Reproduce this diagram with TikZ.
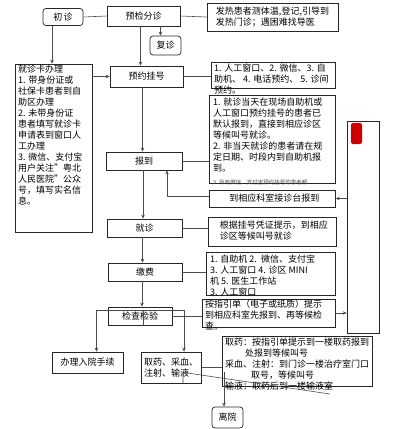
\documentclass[tikz,border=0pt]{standalone}
\usepackage{fontspec}
\setmainfont{Noto Sans CJK SC}
\usetikzlibrary{arrows.meta, calc}

\begin{document}
\begin{tikzpicture}[x = 1pt, y = -1pt,
        every node/.style = {font = \fontsize{9}{11}\selectfont, inner sep = 0pt},
        stepbox/.style = {draw = black!85, line width = 0.7pt, fill = white},
        roundbox/.style = {stepbox, rounded corners = 3pt},
        txt/.style = {anchor = north west, align = left},
        arr/.style = {-{Stealth[length = 4pt, width = 3.5pt]}},
        con/.style = {draw = black!70, line width = 0.6pt}]
        \useasboundingbox (0,0) rectangle (414,429);

        % top row
        \node[roundbox, minimum width = 40pt, minimum height = 17pt] (chuzhen) at (63,17) {初\,诊};
        \node[stepbox, minimum width = 73pt, minimum height = 20pt] (yujian) at (143.5,16) {预检分诊};
        \node[stepbox, minimum width = 131pt, minimum height = 28pt, align = left] (fever) at (272.5,17)
          {发热患者测体温,登记,引导到\\发热门诊；遇困难找导医};
        \node[roundbox, minimum width = 31pt, minimum height = 19pt] (fuzhen) at (165.5,45.5) {复诊};

        % left card box
        \node[stepbox, minimum width = 77pt, minimum height = 168pt] (card) at (53.5,148) {};
        \node[txt] (cardtxt) at (18,65) {就诊卡办理\\1. 带身份证或\\社保卡患者到自\\助区办理\\2. 未带身份证\\患者填写就诊卡\\申请表到窗口人\\工办理\\3. 微信、支付宝\\用户关注"粤北\\人民医院"公众\\号，填写实名信\\息。};

        % main column
        \node[stepbox, minimum width = 73pt, minimum height = 21pt] (yuyue) at (146.5,76.5) {预约挂号};
        \node[stepbox, minimum width = 76pt, minimum height = 18pt] (baodao) at (144,161) {报到};
        \node[stepbox, minimum width = 75pt, minimum height = 18pt] (jiuzhen) at (144.5,228) {就诊};
        \node[stepbox, minimum width = 74pt, minimum height = 18pt] (jiaofei) at (145,272) {缴费};
        \node[stepbox, minimum width = 64pt, minimum height = 18pt] (jiancha) at (140,316) {检查检验};
        \node[stepbox, minimum width = 71pt, minimum height = 21pt] (ruyuan) at (87.5,362.5) {办理入院手续};
        \node[stepbox, minimum width = 60pt, minimum height = 31pt, align = left] (quyao) at (171,367.5) {取药、采血、\\注射、输液};
        \node[roundbox, minimum width = 31pt, minimum height = 21pt] (liyuan) at (227.5,417.5) {离院};

        % right notes
        \node[stepbox, minimum width = 124pt, minimum height = 26pt] (way) at (273,75) {};
        \node[txt] (waytxt) at (214,63.5) {1. 人工窗口、2. 微信、3. 自\\助机、 4. 电话预约、 5. 诊间\\预约。};
        \node[stepbox, minimum width = 126pt, minimum height = 88pt] (report) at (272,139) {};
        \node[txt] (reporttxt) at (213,97.5) {1. 就诊当天在现场自助机或\\人工窗口预约挂号的患者已\\默认报到，直接到相应诊区\\等候叫号就诊。\\2. 非当天就诊的患者请在规\\定日期、时段内到自助机报\\到。};
        \node[txt, font = \fontsize{5.5}{6}\selectfont, text = black!70] (reportmore) at (213,180) {3. 所有微信、支付宝预约挂号的患者都};
        \node[stepbox, minimum width = 126pt, minimum height = 17pt, anchor = west] (jzbd) at (209,198.5) {\hspace{4pt}到相应科室接诊台报到};
        \node[stepbox, minimum width = 128pt, minimum height = 29pt, anchor = west, align = left] (wait) at (208,231.5)
          {\hspace{3pt}\begin{tabular}{@{}l@{}}根据挂号凭证提示，到相应\\诊区等候叫号就诊\end{tabular}};
        \node[stepbox, minimum width = 129pt, minimum height = 43pt] (pay) at (270.5,273.5) {};
        \node[txt] (paytxt) at (210,255) {1. 自助机 2.\, 微信、支付宝\\3. 人工窗口 4. 诊区 MINI\\机 5. 医生工作站\\3. 人工窗口};
        \node[stepbox, minimum width = 133pt, minimum height = 28pt] (guide) at (268.5,313) {};
        \node[txt] (guidetxt) at (205,300) {按指引单（电子或纸质）提示\\到相应科室先报到、再等候检\\查。};
        \node[stepbox, minimum width = 150pt, minimum height = 50pt] (med) at (297,361) {};
        \node[txt] (medtxt) at (225,338) {取药：按指引单提示到一楼取药报到\\\hspace{20pt}处报到等候叫号\\采血、注射：到门诊一楼治疗室门口\\\hspace{26pt}取号，等候叫号\\输液：取药后到一楼输液室};

        % side box
        \node[stepbox, minimum width = 32pt, minimum height = 212pt] (side) at (363,227) {};
        \node[fill = red!80!black, rounded corners = 2pt, minimum width = 11pt, minimum height = 21pt] (seal) at (356.5,133.5) {};

        % connectors
        \draw[con] (chuzhen.east) -- (yujian.west);
        \draw[con] (yujian.east) -- (fever.west);
        \draw[con, arr] ([xshift = 17pt]yujian.south) -- ([xshift = 17pt]yujian.south |- fuzhen.north);
        \draw[con, arr] ([xshift = -3pt]yujian.south) -- ([xshift = -3pt]yujian.south |- yuyue.north);
        \draw[con, arr] ([xshift = -11pt]chuzhen.south) -- ([xshift = -11pt]chuzhen.south |- card.north);
        \draw[con, arr] (card.east |- yuyue) -- (yuyue.west);
        \draw[con] (yuyue.east) -- (way.west |- yuyue);
        \draw[con, arr] ([xshift = -4pt]yuyue.south) -- ([xshift = -4pt]yuyue.south |- baodao.north);
        \draw[con] (baodao.east) -- (report.west |- baodao);
        \draw[con, arr] (side.west |- jzbd) -- (jzbd.east);
        \draw[con, arr] ([yshift = 2pt]jzbd.west) -| ([xshift = 23pt]baodao.south);
        \draw[con, arr] ([xshift = -1pt]baodao.south) -- ([xshift = -1pt]baodao.south |- jiuzhen.north);
        \draw[con] (jiuzhen.east) -- (wait.west |- jiuzhen);
        \draw[con, arr] ([xshift = -2pt]jiuzhen.south) -- ([xshift = -2pt]jiuzhen.south |- jiaofei.north);
        \draw[con] (jiaofei.east) -- (pay.west |- jiaofei);
        \draw[con, arr] ([xshift = -3pt]jiaofei.south) -- ([xshift = -3pt]jiaofei.south |- jiancha.north);
        \draw[con] (jiancha.east) -- (guide.west |- jiancha);
        \draw[con, arr] (guide.east) -- (side.west |- guide);

        \coordinate (split) at ([xshift = 3pt, yshift = 15pt]jiancha.south);
        \draw[con] (jiancha.south -| split) -- (split);
        \draw[con, arr] (split) -| ([xshift = 9pt]ruyuan.north);
        \draw[con, arr] (split) -| ([xshift = 13pt]quyao.north);
        \draw[con] (quyao.east) -- (med.west |- quyao);

        \coordinate (merge) at ([xshift = 12pt, yshift = 11pt]quyao.south);
        \coordinate (mergeend) at (330,394);
        \draw[con] (quyao.south -| merge) -- (merge) -- (mergeend);
        \draw[con, arr] ([xshift = -3.5pt]liyuan.north |- merge) -- ([xshift = -3.5pt]liyuan.north);
\end{tikzpicture}
\end{document}
